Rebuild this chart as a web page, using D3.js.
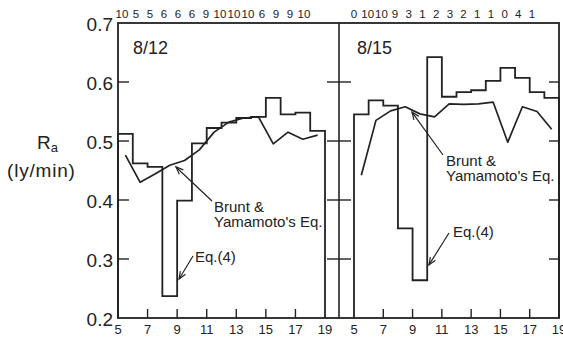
<!DOCTYPE html>
<html lang="en">
<head>
  <meta charset="UTF-8">
  <title>Ra 8/12 - 8/15</title>
  <style>
    body { margin: 0; background: #fff; }
    svg { display: block; font-family: "Liberation Sans", Arial, sans-serif; }
  </style>
</head>
<body>
  <div id="svg"></div>
  <script src="https://d3js.org/d3.v7.min.js"></script>
  <script>
    // hourly means, one per hour starting at 5h ... 18h
    const hours = d3.range(5, 19)
    const eq4Aug12 = [0.512, 0.462, 0.456, 0.237, 0.399, 0.496, 0.522, 0.531, 0.539, 0.541, 0.573, 0.545, 0.548, 0.517]
    const eq4Aug15 = [0.545, 0.569, 0.560, 0.352, 0.264, 0.642, 0.575, 0.583, 0.586, 0.602, 0.624, 0.607, 0.583, 0.573]
    // Brunt & Yamamoto's Eq., at the middle of each hour
    const midHours = hours.map(h => h + 0.5)
    const bruntAug12 = [0.476, 0.430, 0.444, 0.459, 0.467, 0.485, 0.515, 0.532, 0.539, 0.541, 0.495, 0.515, 0.503, 0.510]
    const bruntAug15 = [0.442, 0.535, 0.551, 0.558, 0.546, 0.541, 0.563, 0.562, 0.563, 0.566, 0.498, 0.558, 0.550, 0.520]
    // cloud amount printed over the top
    const cloudAug12 = ['10', '5', '5', '6', '6', '6', '9', '10', '10', '10', '6', '9', '9', '10']
    const cloudAug15 = ['0', '10', '10', '9', '3', '1', '2', '3', '2', '1', '1', '0', '4', '1']

    const yTicks = [0.2, 0.3, 0.4, 0.5, 0.6, 0.7]
    const xTicks = [5, 7, 9, 11, 13, 15, 17, 19]

    const width = 563
    const height = 340
    const ink = '#222'
    const frame = { left: 118, right: 559, top: 23, bottom: 318, mid: 339 }

    const svg = d3.select('#svg').append('svg').attr('width', width).attr('height', height)

    const y = d3.scaleLinear().domain([0.2, 0.7]).range([frame.bottom, frame.top])
    const panels = [
      { x: d3.scaleLinear().domain([5, 19]).range([118, 325]), eq4: eq4Aug12, brunt: bruntAug12, cloud: cloudAug12, cloudRange: [122, 304], date: '8/12' },
      { x: d3.scaleLinear().domain([5, 19]).range([354, 559]), eq4: eq4Aug15, brunt: bruntAug15, cloud: cloudAug15, cloudRange: [354, 532], date: '8/15' }
    ]

    // frame + divider
    svg.append('rect')
      .attr('x', frame.left).attr('y', frame.top)
      .attr('width', frame.right - frame.left).attr('height', frame.bottom - frame.top)
      .attr('fill', 'none').attr('stroke', ink).attr('stroke-width', 1.8)
    svg.append('line')
      .attr('x1', frame.mid).attr('x2', frame.mid).attr('y1', frame.top).attr('y2', frame.bottom)
      .attr('stroke', ink).attr('stroke-width', 1.6)

    // y ticks: inward on the outer edges, crossing the divider
    const inner = yTicks.slice(1, -1)
    const yt = svg.append('g').attr('stroke', ink).attr('stroke-width', 1.4)
    yt.selectAll('.l').data(inner).enter().append('line')
      .attr('x1', frame.left).attr('x2', frame.left + 11).attr('y1', d => y(d)).attr('y2', d => y(d))
    yt.selectAll('.m').data(inner).enter().append('line')
      .attr('x1', frame.mid - 12).attr('x2', frame.mid + 12).attr('y1', d => y(d)).attr('y2', d => y(d))
    yt.selectAll('.r').data(inner).enter().append('line')
      .attr('x1', frame.right - 10).attr('x2', frame.right).attr('y1', d => y(d)).attr('y2', d => y(d))

    svg.selectAll('.ylab').data(yTicks).enter().append('text')
      .attr('x', 113).attr('y', d => y(d) + 8)
      .attr('text-anchor', 'end').attr('font-size', 19).attr('fill', ink)
      .text(d => d.toFixed(1))

    // y title
    const yTitle = svg.append('text').attr('x', 37).attr('y', 149).attr('font-size', 19).attr('fill', ink)
    yTitle.append('tspan').text('R')
    yTitle.append('tspan').attr('font-size', 13).attr('dy', 3).text('a')
    svg.append('text').attr('x', 7).attr('y', 177).attr('font-size', 19).attr('fill', ink)
      .attr('letter-spacing', 0.8).text('(ly/min)')

    const stepLine = d3.line().curve(d3.curveStepAfter)
    const polyLine = d3.line()

    panels.forEach(p => {
      const x = p.x
      // x ticks, inward, interior hours only
      svg.append('g').selectAll('line').data(xTicks.slice(1, -1)).enter().append('line')
        .attr('x1', d => x(d)).attr('x2', d => x(d))
        .attr('y1', frame.bottom - 9).attr('y2', frame.bottom)
        .attr('stroke', ink).attr('stroke-width', 1.4)
      svg.append('g').selectAll('text').data(xTicks).enter().append('text')
        .attr('x', d => x(d)).attr('y', 334)
        .attr('text-anchor', 'middle').attr('font-size', 13).attr('fill', ink)
        .text(d => d)

      // cloud amounts
      const c = d3.scalePoint().domain(d3.range(p.cloud.length)).range(p.cloudRange)
      svg.append('g').selectAll('text').data(p.cloud).enter().append('text')
        .attr('x', (d, i) => c(i)).attr('y', 18)
        .attr('text-anchor', 'middle').attr('font-size', 11.5).attr('fill', ink)
        .text(d => d)

      // Eq.(4) hourly steps, closed to the baseline
      const pts = [[5, 0.2]].concat(hours.map((h, i) => [h, p.eq4[i]]))
      pts.push([19, p.eq4[p.eq4.length - 1]], [19, 0.2])
      svg.append('path')
        .attr('d', stepLine(pts.map(d => [x(d[0]), y(d[1])])))
        .attr('fill', 'none').attr('stroke', ink).attr('stroke-width', 1.8)

      // Brunt & Yamamoto
      svg.append('path')
        .attr('d', polyLine(midHours.map((h, i) => [x(h), y(p.brunt[i])])))
        .attr('fill', 'none').attr('stroke', ink).attr('stroke-width', 1.7).attr('stroke-linejoin', 'round')

      svg.append('text').attr('x', p === panels[0] ? 133 : 357).attr('y', 54)
        .attr('font-size', 18).attr('fill', ink).text(p.date)
    })

    // labels with arrows
    const arrow = (x1, y1, x2, y2) => {
      svg.append('line').attr('x1', x1).attr('y1', y1).attr('x2', x2).attr('y2', y2)
        .attr('stroke', ink).attr('stroke-width', 1.2)
      const a = Math.atan2(y2 - y1, x2 - x1)
      const len = 8
      const spread = 0.38
      const head = [
        [x2 - len * Math.cos(a - spread), y2 - len * Math.sin(a - spread)],
        [x2, y2],
        [x2 - len * Math.cos(a + spread), y2 - len * Math.sin(a + spread)]
      ]
      svg.append('path').attr('d', d3.line()(head)).attr('fill', 'none')
        .attr('stroke', ink).attr('stroke-width', 1.2)
    }
    const note = (x0, y0, lines) => {
      lines.forEach((t, i) => {
        svg.append('text').attr('x', x0).attr('y', y0 + i * 15)
          .attr('font-size', 15).attr('fill', ink).text(t)
      })
    }

    const [pl, pr] = panels
    note(214, 212, ['Brunt &', "Yamamoto's Eq."])
    arrow(212, 201, pl.x(8.92), y(0.456))
    note(195, 262, ['Eq.(4)'])
    arrow(193, 256, pl.x(9.13), y(0.266))

    note(446, 166, ['Brunt &', "Yamamoto's Eq."])
    arrow(443, 155, pr.x(8.96), y(0.549))
    note(453, 237, ['Eq.(4)'])
    arrow(449, 233, pr.x(10.12), y(0.29))
  </script>
</body>
</html>
